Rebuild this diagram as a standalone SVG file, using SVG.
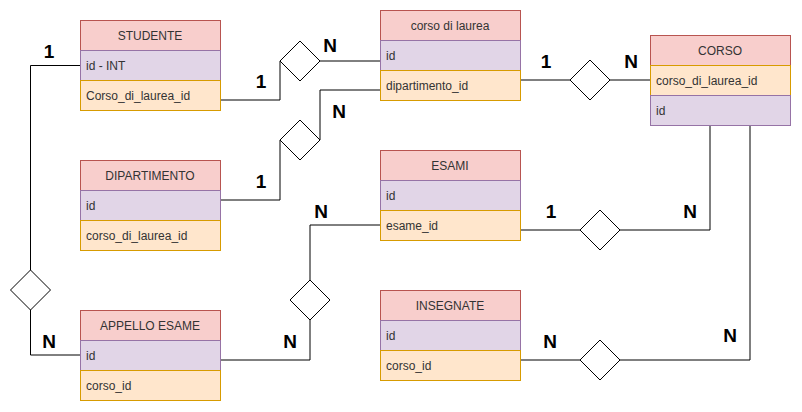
<svg xmlns="http://www.w3.org/2000/svg" width="802" height="412" viewBox="0 0 802 412">
<style>
.h{fill:#f8cecc;stroke:#b85450;stroke-width:1}
.p{fill:#e1d5e7;stroke:#9673a6;stroke-width:1}
.o{fill:#ffe6cc;stroke:#d79b00;stroke-width:1}
.t{font-family:"Liberation Sans",Arial,sans-serif;font-size:12px;fill:#333333}
.c{text-anchor:middle}
.l{font-family:"Liberation Sans",Arial,sans-serif;font-size:19px;font-weight:bold;fill:#000;text-anchor:middle}
.e{fill:none;stroke:#000;stroke-width:1}
.d{fill:#fff;stroke:#000;stroke-width:1}
</style>
<rect width="802" height="412" fill="#fff"/>
<g id="connectors">
<polyline class="e" points="220,100 280,100 280,61"/>
<polyline class="e" points="320,61 380,61"/>
<polyline class="e" points="220,200 280,200 280,140"/>
<polyline class="e" points="320,140 320,90 380,90"/>
<polyline class="e" points="520,80 570,80"/>
<polyline class="e" points="610,80 650,80"/>
<polyline class="e" points="520,230 580,230"/>
<polyline class="e" points="620,230 710,230 710,125"/>
<polyline class="e" points="520,360 580,360"/>
<polyline class="e" points="620,360 750,360 750,125"/>
<polyline class="e" points="80,65.5 30.5,65.5 30.5,270"/>
<polyline class="e" points="30.5,310 30.5,355 80,355"/>
<polyline class="e" points="220,360 310,360 310,320"/>
<polyline class="e" points="310,280 310,225 380,225"/>
</g>
<g id="diamonds">
<polygon id="rel1" class="d" points="300,41 320,61 300,81 280,61"/>
<polygon id="rel2" class="d" points="300,120 320,140 300,160 280,140"/>
<polygon id="rel3" class="d" points="590,60 610,80 590,100 570,80"/>
<polygon id="rel4" class="d" points="600,210 620,230 600,250 580,230"/>
<polygon id="rel5" class="d" points="600,340 620,360 600,380 580,360"/>
<polygon id="rel6" class="d" points="30.5,270 50.5,290 30.5,310 10.5,290"/>
<polygon id="rel7" class="d" points="310,280 330,300 310,320 290,300"/>
</g>
<g id="studente">
<rect class="h" x="80.5" y="20.5" width="140" height="30"/>
<rect class="p" x="80.5" y="50.5" width="140" height="30"/>
<rect class="o" x="80.5" y="80.5" width="140" height="30"/>
<text class="t c" x="150" y="39.5">STUDENTE</text>
<text class="t" x="86" y="69.5">id - INT</text>
<text class="t" x="86" y="99.5">Corso_di_laurea_id</text>
</g>
<g id="corso-di-laurea">
<rect class="h" x="380.5" y="10.5" width="140" height="30"/>
<rect class="p" x="380.5" y="40.5" width="140" height="30"/>
<rect class="o" x="380.5" y="70.5" width="140" height="30"/>
<text class="t c" x="450" y="29.5">corso di laurea</text>
<text class="t" x="386" y="59.5">id</text>
<text class="t" x="386" y="89.5">dipartimento_id</text>
</g>
<g id="corso">
<rect class="h" x="650.5" y="35.5" width="140" height="30"/>
<rect class="o" x="650.5" y="65.5" width="140" height="30"/>
<rect class="p" x="650.5" y="95.5" width="140" height="30"/>
<text class="t c" x="720" y="54.5">CORSO</text>
<text class="t" x="656" y="84.5">corso_di_laurea_id</text>
<text class="t" x="656" y="114.5">id</text>
</g>
<g id="dipartimento">
<rect class="h" x="80.5" y="160.5" width="140" height="30"/>
<rect class="p" x="80.5" y="190.5" width="140" height="30"/>
<rect class="o" x="80.5" y="220.5" width="140" height="30"/>
<text class="t c" x="150" y="179.5">DIPARTIMENTO</text>
<text class="t" x="86" y="209.5">id</text>
<text class="t" x="86" y="239.5">corso_di_laurea_id</text>
</g>
<g id="esami">
<rect class="h" x="380.5" y="150.5" width="140" height="30"/>
<rect class="p" x="380.5" y="180.5" width="140" height="30"/>
<rect class="o" x="380.5" y="210.5" width="140" height="30"/>
<text class="t c" x="450" y="169.5">ESAMI</text>
<text class="t" x="386" y="199.5">id</text>
<text class="t" x="386" y="229.5">esame_id</text>
</g>
<g id="appello-esame">
<rect class="h" x="80.5" y="310.5" width="140" height="30"/>
<rect class="p" x="80.5" y="340.5" width="140" height="30"/>
<rect class="o" x="80.5" y="370.5" width="140" height="30"/>
<text class="t c" x="150" y="329.5">APPELLO ESAME</text>
<text class="t" x="86" y="359.5">id</text>
<text class="t" x="86" y="389.5">corso_id</text>
</g>
<g id="insegnate">
<rect class="h" x="380.5" y="290.5" width="140" height="30"/>
<rect class="p" x="380.5" y="320.5" width="140" height="30"/>
<rect class="o" x="380.5" y="350.5" width="140" height="30"/>
<text class="t c" x="450" y="309.5">INSEGNATE</text>
<text class="t" x="386" y="339.5">id</text>
<text class="t" x="386" y="369.5">corso_id</text>
</g>
<g id="labels">
<text class="l" x="49" y="58">1</text>
<text class="l" x="330" y="52">N</text>
<text class="l" x="261" y="88">1</text>
<text class="l" x="339" y="118">N</text>
<text class="l" x="546" y="68">1</text>
<text class="l" x="631" y="68">N</text>
<text class="l" x="261" y="188">1</text>
<text class="l" x="321" y="218">N</text>
<text class="l" x="551" y="218">1</text>
<text class="l" x="690" y="218">N</text>
<text class="l" x="49" y="348">N</text>
<text class="l" x="290" y="348">N</text>
<text class="l" x="550" y="348">N</text>
<text class="l" x="730" y="342">N</text>
</g>
</svg>
